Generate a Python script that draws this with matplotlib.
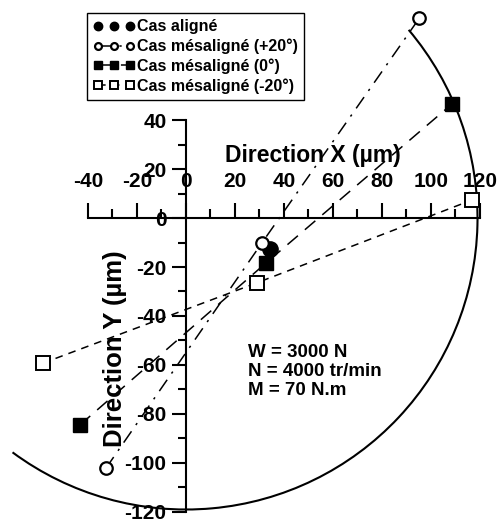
import matplotlib
matplotlib.use('Agg')
import matplotlib.pyplot as plt
from matplotlib.patches import Arc
from matplotlib.ticker import FixedLocator

# donnees (µm)
x_aligne = [34.5]
y_aligne = [-12.5]
x_plus20 = [-32.7, 30.9, 95.2]
y_plus20 = [-102.2, -10.3, 81.5]
x_zero = [-43.3, 32.5, 108.4]
y_zero = [-84.5, -18.5, 46.4]
x_moins20 = [-58.5, 29.1, 116.6]
y_moins20 = [-59.3, -26.4, 7.3]

# cercle du jeu
rayon = 119
angle_debut = -126.5
angle_fin = 40.2

labels = ['Cas aligné', 'Cas mésaligné (+20°)', 'Cas mésaligné (0°)', 'Cas mésaligné (-20°)']
conditions = 'W = 3000 N\nN = 4000 tr/min\nM = 70 N.m'

plt.rcParams['font.family'] = ['Liberation Sans', 'DejaVu Sans']
plt.rcParams['font.weight'] = 'bold'
plt.rcParams['axes.unicode_minus'] = False

fig = plt.figure(figsize=(5.03, 5.22), dpi=100)
ax = fig.add_axes([0, 0, 1, 1])
ax.patch.set_alpha(0)

# axes qui passent par l'origine
ax.spines['bottom'].set_visible(False)
ax.spines['right'].set_visible(False)
ax.spines['top'].set_position(('data', 0))
ax.spines['left'].set_position(('data', 0))
ax.spines['top'].set_bounds(-40, 120)
ax.spines['left'].set_bounds(-120, 40)
ax.spines['top'].set_linewidth(1.5)
ax.spines['left'].set_linewidth(1.5)

ax.xaxis.tick_top()
ax.set_xticks(range(-40, 121, 20))
ax.xaxis.set_minor_locator(FixedLocator(range(-30, 120, 20)))
ax.set_yticks(range(-120, 41, 20))
ax.yaxis.set_minor_locator(FixedLocator(range(-110, 40, 20)))
ax.tick_params(axis='x', which='major', direction='out', length=10.5, width=1.5, pad=9, labelsize=15)
ax.tick_params(axis='x', which='minor', direction='out', length=6.5, width=1.5)
ax.tick_params(axis='y', which='major', direction='out', length=10, width=1.5, pad=4, labelsize=15)
ax.tick_params(axis='y', which='minor', direction='out', length=5.5, width=1.5)
ax.set_xlim(-75.9, 129.4)
ax.set_ylim(-124.1, 89.0)

ax.add_patch(Arc((0, 0), 2 * rayon, 2 * rayon, theta1=angle_debut, theta2=angle_fin,
                 color='black', lw=1.5, zorder=2))

ax.plot(x_moins20, y_moins20, color='black', lw=1.1, dashes=(5, 4),
        marker='s', ms=10, mfc='white', mec='black', mew=1.4, label=labels[3], zorder=3)
ax.plot(x_zero, y_zero, color='black', lw=1.1, dashes=(9, 6),
        marker='s', ms=10.5, mfc='black', mec='black', label=labels[2], zorder=3)
ax.plot(x_aligne, y_aligne, ls='none', marker='o', ms=11, color='black', label=labels[0], zorder=4)
ax.plot(x_plus20, y_plus20, color='black', lw=1.1, dashes=(9, 5, 1.5, 5),
        marker='o', ms=9, mfc='white', mec='black', mew=1.6, label=labels[1], zorder=5)

ax.text(51.8, 25.7, 'Direction X (µm)', fontsize=16.5, ha='center', va='center')
ax.text(-28.8, -53.5, 'Direction Y (µm)', fontsize=18.5, ha='center', va='center', rotation=90)
ax.text(25.3, -51.5, conditions, fontsize=13.5, ha='left', va='top', linespacing=1.15)

h, l = ax.get_legend_handles_labels()
order = [2, 3, 1, 0]
leg = ax.legend([h[i] for i in order], [l[i] for i in order], loc='upper left',
                bbox_to_anchor=(0.173, 0.975), fontsize=11.5, numpoints=3, markerscale=0.55,
                handlelength=2.6, handletextpad=0.1, labelspacing=0.26, borderpad=0.4,
                borderaxespad=0, fancybox=False, framealpha=1, edgecolor='black')
leg.get_frame().set_linewidth(1.0)

fig.savefig('out.png', dpi=100)
